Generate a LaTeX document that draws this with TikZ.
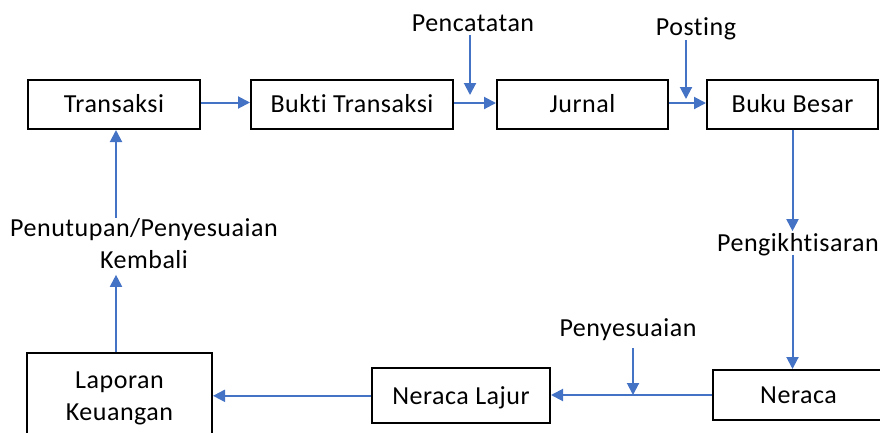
\documentclass[tikz,border=0pt]{standalone}
\usepackage{fontspec}
\setmainfont{Carlito}[Ligatures=NoCommon, LetterSpace=2]
\usetikzlibrary{arrows.meta}
\definecolor{arrblue}{HTML}{4472C4}
\tikzset{
  txt/.style={font=\fontsize{26}{32}\selectfont},
  boxbase/.style={txt, draw=black, line width=2pt, inner sep=0pt},
  box/.style={boxbase, minimum height=49pt, text height=20pt, text depth=3.3pt},
  lbl/.style={txt, inner sep=0pt, text height=20pt, text depth=3.3pt},
  lblmulti/.style={txt, inner sep=0pt, align=center},
  arr/.style={draw=arrblue, line width=2pt, -{Triangle[length=12pt,width=12pt]}}
}
\begin{document}
\begin{tikzpicture}[x=1pt,y=-1pt]
\useasboundingbox (0,0) rectangle (880,432);
\clip (0,0) rectangle (880,432);

% boxes
\node[box, minimum width=172pt] (tr) at (114,104.5) {Transaksi};
\node[box, minimum width=202pt] (bt) at (352,104.5) {Bukti Transaksi};
\node[box, minimum width=171pt] (ju) at (582.5,104) {Jurnal};
\node[box, minimum width=171pt] (bb) at (792.5,104) {Buku Besar};
\node[box, minimum width=171pt, minimum height=50pt] (ne) at (798.5,395) {Neraca};
\node[box, minimum width=178pt, minimum height=55pt] (nl) at (461,395.8) {Neraca Lajur};
\node[boxbase, align=center, minimum width=185pt, minimum height=91pt] (lk) at (119.5,398.8) {Laporan\\Keuangan};

% labels
\node[lbl] (pc) at (473,23) {Pencatatan};
\node[lbl] (po) at (696,27.5) {Posting};
\node[lbl, anchor=east] (pk) at (879,243) {Pengikhtisaran};
\node[lbl] (py) at (628,328.5) {Penyesuaian};
\node[lblmulti] (pp) at (144,243.5) {Penutupan/Penyesuaian\\Kembali};

% helper coordinates
\coordinate (pcs) at (470,35);
\coordinate (pce) at (470,95);
\coordinate (pos) at (686,40);
\coordinate (poe) at (686,99);
\coordinate (pys) at (633,348);
\coordinate (pye) at (633,395);
\coordinate (vx) at (116,0);

% top row
\draw[arr] ([yshift=2pt]tr.east) -- ([yshift=2pt]tr.east -| bt.west);
\draw[arr] ([yshift=1.5pt]bt.east) -- ([yshift=1.5pt]bt.east -| ju.west);
\draw[arr] ([yshift=1pt]ju.east) -- ([yshift=1pt]ju.east -| bb.west);
\draw[arr] (pcs) -- (pce);
\draw[arr] (pos) -- (poe);

% right column
\draw[arr] (bb.south) -- (bb.south |- pk.north);
\draw[arr] (bb.south |- pk.south) -- (bb.south |- ne.north);

% bottom row
\draw[arr] (ne.west) -- (ne.west -| nl.east);
\draw[arr] (pys) -- (pye);
\draw[arr] (nl.west) -- (nl.west -| lk.east);

% left column
\draw[arr] (lk.north -| vx) -- ([yshift=-6pt]pp.south -| vx);
\draw[arr] (pp.north -| vx) -- (tr.south -| vx);
\end{tikzpicture}
\end{document}
